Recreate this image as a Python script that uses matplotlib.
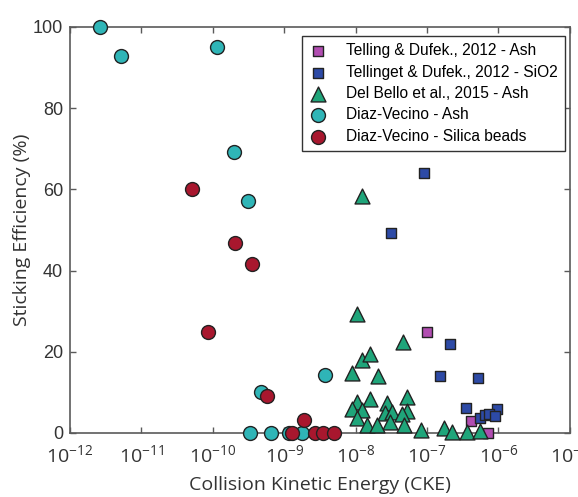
import matplotlib
matplotlib.use("Agg")
import matplotlib.pyplot as plt
from matplotlib.ticker import FixedLocator, FixedFormatter, NullLocator

# ---- data ----
telling_ash_x = [9.95e-8, 4.11e-7, 7.11e-7]
telling_ash_y = [24.9, 3.0, 0.0]

telling_sio2_x = [9.04e-8, 3.12e-8, 2.09e-7, 1.51e-7, 5.13e-7, 3.50e-7,
                  9.51e-7, 5.50e-7, 6.46e-7, 7.41e-7, 8.91e-7]
telling_sio2_y = [64.0, 49.3, 21.9, 14.0, 13.5, 6.2, 5.9, 3.7, 4.4, 4.7, 4.2]

delbello_x = [1.22e-8, 1.04e-8, 4.59e-8, 1.22e-8, 1.58e-8, 8.87e-9, 2.05e-8,
              1.04e-8, 1.58e-8, 8.87e-9, 1.22e-8, 1.04e-8, 2.74e-8, 5.22e-8,
              2.57e-8, 3.22e-8, 5.22e-8, 4.45e-8, 3.02e-8, 1.44e-8, 1.99e-8,
              4.74e-8, 8.20e-8, 1.72e-7, 2.23e-7, 3.61e-7, 5.50e-7]
delbello_y = [58.4, 29.3, 22.4, 18.0, 19.5, 14.8, 14.0,
              7.6, 8.4, 5.9, 5.7, 3.7, 7.4, 8.9,
              4.9, 5.2, 5.4, 4.7, 2.7, 2.0, 2.0,
              2.0, 0.7, 1.2, 0.2, 0.2, 0.5]

dv_ash_x = [2.63e-12, 5.13e-12, 1.15e-10, 2.0e-10, 3.09e-10, 4.68e-10,
            3.72e-9, 3.31e-10, 6.61e-10, 1.17e-9, 1.78e-9]
dv_ash_y = [100.0, 92.9, 95.1, 69.2, 57.1, 10.1, 14.3, 0.0, 0.0, 0.0, 0.0]

dv_silica_x = [5.13e-11, 2.04e-10, 3.55e-10, 8.51e-11, 5.75e-10, 1.91e-9,
               1.29e-9, 2.69e-9, 3.47e-9, 5.01e-9]
dv_silica_y = [60.1, 46.8, 41.6, 24.9, 9.1, 3.2, 0.0, 0.0, 0.0, 0.0]

labels = ["Telling & Dufek., 2012 - Ash",
          "Tellinget & Dufek., 2012 - SiO2",
          "Del Bello et al., 2015 - Ash",
          "Diaz-Vecino - Ash",
          "Diaz-Vecino - Silica beads"]

x_exponents = [-12, -11, -10, -9, -8, -7, -6, -5]
y_ticks = [0, 20, 40, 60, 80, 100]

# ---- style ----
plt.rcParams['mathtext.fontset'] = 'custom'
plt.rcParams['mathtext.rm'] = 'Open Sans'
plt.rcParams['mathtext.it'] = 'Open Sans:italic'

fig = plt.figure(figsize=(5.78, 4.97), dpi=100)
ax = fig.add_axes([0.121, 0.1288, 0.865, 0.8169])

txt = '#333333'
spine_c = '#5a5a5a'

series = [
    (telling_ash_x, telling_ash_y, 's', '#b14db1', 55),
    (telling_sio2_x, telling_sio2_y, 's', '#2d4aa6', 55),
    (delbello_x, delbello_y, '^', '#1fa57a', 115),
    (dv_ash_x, dv_ash_y, 'o', '#2fb5b7', 100),
    (dv_silica_x, dv_silica_y, 'o', '#a8172e', 100),
]
for (xs, ys, m, c, s), lab in zip(series, labels):
    ax.scatter(xs, ys, marker=m, s=s, c=c, edgecolors='#222222',
               linewidths=1.0, label=lab, clip_on=False, zorder=3)

ax.set_xscale('log')
ax.set_xlim(1e-12, 1e-5)
ax.set_ylim(0, 100)

ax.xaxis.set_major_locator(FixedLocator([10.0 ** e for e in x_exponents]))
ax.xaxis.set_major_formatter(FixedFormatter([r'$10^{%d}$' % e for e in x_exponents]))
ax.xaxis.set_minor_locator(NullLocator())
ax.yaxis.set_major_locator(FixedLocator(y_ticks))
ax.yaxis.set_major_formatter(FixedFormatter([str(v) for v in y_ticks]))

ax.tick_params(axis='both', direction='in', top=True, right=True,
               length=4, width=1, color=spine_c, labelcolor=txt)
ax.tick_params(axis='x', labelsize=14, pad=8)
ax.tick_params(axis='y', labelsize=13, pad=5)
for lab in ax.get_yticklabels():
    lab.set_fontfamily('Liberation Sans')

for sp in ax.spines.values():
    sp.set_color(spine_c)
    sp.set_linewidth(1.2)

ax.set_xlabel('Collision Kinetic Energy (CKE)', fontsize=14, color=txt,
              family='Open Sans', labelpad=7)
ax.set_ylabel('Sticking Efficiency (%)', fontsize=14, color=txt,
              family='Open Sans', labelpad=1.5)

leg = ax.legend(loc='upper right', bbox_to_anchor=(0.99, 0.977),
                prop={'family': 'Liberation Sans', 'size': 11.2},
                frameon=True, fancybox=False, edgecolor='#333333',
                framealpha=1, borderaxespad=0.0, handlelength=1.2,
                handletextpad=1.2, labelspacing=0.41, borderpad=0.45,
                scatterpoints=1)
leg.get_frame().set_linewidth(1.0)

fig.savefig('out.png', dpi=100)
